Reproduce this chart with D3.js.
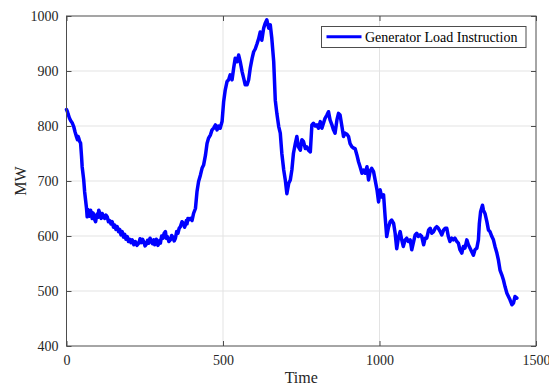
<!DOCTYPE html>
<html><head><meta charset="utf-8">
<script src="https://cdn.jsdelivr.net/npm/d3@7"></script>
<style>body{margin:0;background:#fff}svg{display:block}</style>
</head><body>
<script>
const timeValues = [0,3,5,9,13,18,23,27,30,32,35,37,39,42,45,48,50,55,58,61,64,66,68,70,73,77,80,82,85,87,90,93,96,98,101,103,106,108,111,114,118,122,126,130,134,138,142,146,150,154,158,162,166,170,174,178,182,186,190,194,198,202,206,210,215,220,225,231,235,239,243,247,251,255,259,263,267,271,275,279,282,284,287,289,292,295,298,300,304,308,312,316,319,322,327,332,336,340,344,348,352,356,360,364,369,374,377,380,383,385,388,390,
396,401,406,412,417,422,428,433,438,444,449,454,460,465,470,476,481,486,491,497,502,507,513,518,523,529,534,539,545,550,555,561,566,571,577,582,587,593,598,603,609,614,619,624,630,635,640,646,651,656,662,667,672,678,683,688,694,699,704,710,
715,720,725,731,736,741,747,752,757,763,768,773,779,784,789,795,800,805,811,816,821,826,832,837,842,848,853,858,864,869,874,880,885,890,896,901,906,912,917,922,928,933,938,944,949,954,960,965,970,975,981,986,992,997,1002,1007,1013,1018,1023,1028,1034,1039,1045,1050,1055,1060,1066,1071,1076,1082,1087,1092,1098,1103,1109,1114,1119,1124,1130,1135,1141,1146,1151,1157,1162,1167,1173,1178,1183,1188,1194,1199,1205,1210,1215,1220,1225,1231,1236,1241,1247,1252,1257,1263,1268,1273,1279,1284,1289,1295,1300,1305,1311,1316,1319,1323,1329,1332,1337,1343,1348,1353,1359,1364,1369,1375,1380,1385,1391,1396,1401,1407,1412,1417,1423,1428,1433,1439];
const loadValues = [830,826,822,815,810,806,799,790,784,780,775,781,778,772,769,745,726,702,680,665,650,635,648,645,636,647,640,632,642,638,630,626,636,640,634,647,642,638,632,641,636,632,638,635,626,628,622,626,616,620,612,617,608,612,602,608,598,603,594,599,590,594,588,593,584,590,583,587,595,588,594,589,582,585,592,587,596,591,586,593,584,588,594,590,583,586,592,587,600,596,605,608,596,599,590,593,601,598,591,596,608,605,614,617,626,623,616,620,628,622,632,629,
632,628,641,650,681,699,711,723,729,747,768,778,784,793,796,802,793,800,796,808,844,865,881,884,893,884,905,923,917,929,917,899,887,875,875,884,905,923,935,940,950,959,971,956,978,987,993,978,984,959,917,847,823,799,787,750,720,702,677,696,
702,720,750,768,781,762,756,775,772,759,762,756,753,802,805,800,802,796,808,796,805,814,820,826,811,802,793,787,811,823,820,799,781,787,785,781,768,762,760,759,747,735,726,714,720,714,726,702,718,723,717,702,684,662,684,671,675,635,599,614,626,629,623,605,577,596,608,593,581,593,596,590,593,575,590,602,605,599,602,599,584,596,596,611,614,605,608,614,617,614,608,602,611,614,614,599,590,596,593,596,590,587,575,569,581,578,593,584,578,571,565,575,578,593,623,644,656,647,641,626,611,608,599,593,581,569,556,538,529,520,508,496,490,484,475,478,490,487];
const xTicks = [0,500,1000,1500];
const yTicks = [400,500,600,700,800,900,1000];
const seriesName = "Generator Load Instruction";

const W=549,H=385, L=66.5, R=536, T=16, B=346;
const svg=d3.select("body").append("svg").attr("width",W).attr("height",H);
const x=d3.scaleLinear().domain([0,1500]).range([L,R]);
const y=d3.scaleLinear().domain([400,1000]).range([B,T]);
const font="'Liberation Serif','Times New Roman',serif";
const axisCol="#4d4d4d";

// grid
svg.append("g").selectAll("line").data(xTicks.slice(1,-1)).join("line")
  .attr("x1",d=>x(d)).attr("x2",d=>x(d)).attr("y1",T).attr("y2",B)
  .attr("stroke","#e3e3e3").attr("stroke-width",1);
svg.append("g").selectAll("line").data(yTicks.slice(1,-1)).join("line")
  .attr("y1",d=>y(d)).attr("y2",d=>y(d)).attr("x1",L).attr("x2",R)
  .attr("stroke","#e3e3e3").attr("stroke-width",1);

// data line
const line=d3.line().x((d,i)=>x(timeValues[i])).y(d=>y(d));
svg.append("path").datum(loadValues).attr("d",line)
  .attr("fill","none").attr("stroke","#0000ff").attr("stroke-width",3.5)
  .attr("stroke-linejoin","round").attr("stroke-linecap","round");

// axes
function styleAxis(g){
  g.select(".domain").remove();
  g.selectAll(".tick line").attr("stroke",axisCol);
  g.selectAll(".tick text").attr("fill","#262626").style("font-family",font).style("font-size","14px");
}
const xAxis=svg.append("g").attr("transform",`translate(0,${B})`)
  .call(d3.axisBottom(x).tickValues(xTicks).tickSize(-5).tickPadding(9).tickFormat(d3.format("d")));
styleAxis(xAxis);
const xTop=svg.append("g").attr("transform",`translate(0,${T})`)
  .call(d3.axisTop(x).tickValues(xTicks).tickSize(-5).tickFormat(""));
styleAxis(xTop);
const yAxis=svg.append("g").attr("transform",`translate(${L},0)`)
  .call(d3.axisLeft(y).tickValues(yTicks).tickSize(-5).tickPadding(8).tickFormat(d3.format("d")));
styleAxis(yAxis);
const yRight=svg.append("g").attr("transform",`translate(${R},0)`)
  .call(d3.axisRight(y).tickValues(yTicks).tickSize(-5).tickFormat(""));
styleAxis(yRight);

svg.append("rect").attr("x",L).attr("y",T).attr("width",R-L).attr("height",B-T)
  .attr("fill","none").attr("stroke",axisCol).attr("stroke-width",1);

// axis labels
svg.append("text").attr("x",(L+R)/2).attr("y",383).attr("text-anchor","middle")
  .style("font-family",font).style("font-size","16px").attr("fill","#262626").text("Time");
svg.append("text").attr("transform",`translate(26,${(T+B)/2}) rotate(-90)`).attr("text-anchor","middle")
  .style("font-family",font).style("font-size","16px").attr("fill","#262626").text("MW");

// legend
const lg=svg.append("g");
lg.append("rect").attr("x",321.5).attr("y",26.5).attr("width",204.5).attr("height",21)
  .attr("fill","#fff").attr("stroke",axisCol).attr("stroke-width",1);
lg.append("line").attr("x1",326.5).attr("x2",361.5).attr("y1",36.8).attr("y2",36.8)
  .attr("stroke","#0000ff").attr("stroke-width",3);
lg.append("text").attr("x",365).attr("y",41.5).style("font-family",font).style("font-size","14px")
  .attr("fill","#000").text(seriesName);
</script>
</body></html>
